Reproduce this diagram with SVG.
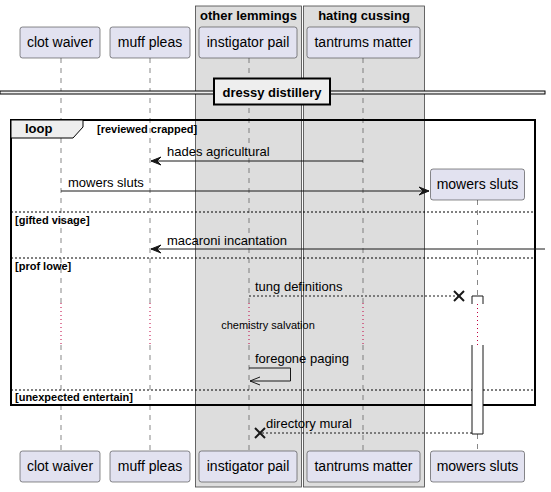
<svg xmlns="http://www.w3.org/2000/svg" width="551" height="492" viewBox="0 0 551 492">
<style>
text{font-family:"Liberation Sans",Arial,sans-serif;fill:#000}
.pbox{fill:#E2E2F0;stroke:#181818;stroke-width:0.5}
.pname{font-size:14px;text-anchor:middle}
.grp{fill:#DDDDDD;stroke:#444;stroke-width:0.8}
.gtitle{font-size:13px;font-weight:bold;text-anchor:middle}
.life{stroke:#555;stroke-width:0.7;stroke-dasharray:5,5;fill:none}
.delay{stroke:#C00040;stroke-width:1;stroke-dasharray:1,3;fill:none}
.msg{stroke:#181818;stroke-width:1;fill:none}
.dmsg{stroke:#181818;stroke-width:1;fill:none;stroke-dasharray:2,2}
.mtxt{font-size:13px}
.sep{stroke:#000;stroke-width:1;stroke-dasharray:2,2}
.cond{font-size:11px;font-weight:bold}
.head{fill:#181818;stroke:#181818;stroke-width:1}
.x{stroke:#181818;stroke-width:2}
</style>
<g id="groups">
<rect class="grp" x="195.5" y="6" width="106" height="481"/>
<text class="gtitle" x="248.5" y="20">other lemmings</text>
<rect class="grp" x="303.5" y="6" width="121" height="481"/>
<text class="gtitle" x="364" y="20">hating cussing</text>
</g>
<g id="lifelines">
<line class="life" x1="61" y1="58" x2="61" y2="303"/>
<line class="delay" x1="61" y1="303" x2="61" y2="345"/>
<line class="life" x1="61" y1="345" x2="61" y2="451"/>
<line class="life" x1="150" y1="58" x2="150" y2="303"/>
<line class="delay" x1="150" y1="303" x2="150" y2="345"/>
<line class="life" x1="150" y1="345" x2="150" y2="451"/>
<line class="life" x1="249" y1="58" x2="249" y2="303"/>
<line class="delay" x1="249" y1="303" x2="249" y2="345"/>
<line class="life" x1="249" y1="345" x2="249" y2="451"/>
<line class="life" x1="363" y1="58" x2="363" y2="303"/>
<line class="delay" x1="363" y1="303" x2="363" y2="345"/>
<line class="life" x1="363" y1="345" x2="363" y2="451"/>
<line class="life" x1="477.5" y1="200" x2="477.5" y2="296"/>
<line class="life" x1="477.5" y1="434" x2="477.5" y2="451"/>
</g>
<g id="divider">
<rect x="0" y="91" width="545" height="3" fill="#EEEEEE" stroke="#000" stroke-width="1"/>
<rect x="214" y="78.5" width="116" height="26" fill="#EEEEEE" stroke="#000" stroke-width="2"/>
<text x="272" y="97" font-size="13" font-weight="bold" text-anchor="middle">dressy distillery</text>
</g>
<g id="loop">
<rect x="11" y="120" width="524" height="285" fill="none" stroke="#000" stroke-width="2"/>
<polygon points="11,120 83,120 83,127 73,138 11,138" fill="#EEEEEE" stroke="#000" stroke-width="1"/>
<text x="25" y="133" font-size="13" font-weight="bold">loop</text>
<text class="cond" x="97" y="133">[reviewed crapped]</text>
<line class="sep" x1="11" y1="212" x2="535" y2="212"/>
<text class="cond" x="15" y="224">[gifted visage]</text>
<line class="sep" x1="11" y1="258" x2="535" y2="258"/>
<text class="cond" x="15" y="270">[prof lowe]</text>
<line class="sep" x1="11" y1="390" x2="535" y2="390"/>
<text class="cond" x="15" y="401">[unexpected entertain]</text>
</g>
<g id="activation">
<path d="M472,304 V296 H483 V304" fill="#fff" stroke="#181818" stroke-width="1"/>
<line class="delay" x1="477.5" y1="304" x2="477.5" y2="345"/>
<path d="M472,345 V434 H483 V345" fill="#fff" stroke="#181818" stroke-width="1"/>
</g>
<g id="connectors">
<line class="msg" x1="363" y1="161" x2="151" y2="161"/>
<polygon class="head" points="161,157 151,161 161,165 157,161"/>
<text class="mtxt" x="167" y="156">hades agricultural</text>
<line class="msg" x1="61" y1="191" x2="429" y2="191"/>
<polygon class="head" points="419,187 429,191 419,195 423,191"/>
<text class="mtxt" x="68" y="187">mowers sluts</text>
<line class="msg" x1="545" y1="249" x2="151" y2="249"/>
<polygon class="head" points="161,245 151,249 161,253 157,249"/>
<text class="mtxt" x="167" y="245">macaroni incantation</text>
<line class="dmsg" x1="249" y1="296" x2="458" y2="296"/>
<line class="x" x1="454" y1="291" x2="464" y2="301"/>
<line class="x" x1="454" y1="301" x2="464" y2="291"/>
<text class="mtxt" x="255" y="291">tung definitions</text>
<text x="268" y="329" font-size="11" text-anchor="middle">chemistry salvation</text>
<polyline class="msg" points="249,368 290.5,368 290.5,381 250,381"/>
<polyline class="msg" points="260,377 250,381 260,385"/>
<text class="mtxt" x="255" y="363">foregone paging</text>
<line class="dmsg" x1="472" y1="433" x2="261" y2="433"/>
<line class="x" x1="255" y1="428" x2="265" y2="438"/>
<line class="x" x1="255" y1="438" x2="265" y2="428"/>
<text class="mtxt" x="266" y="428">directory mural</text>
</g>
<g id="p-clot-top"><rect class="pbox" x="20" y="27" width="80" height="31" rx="2.5"/><text class="pname" x="60" y="47">clot waiver</text></g>
<g id="p-muff-top"><rect class="pbox" x="110" y="27" width="80" height="31" rx="2.5"/><text class="pname" x="150" y="47">muff pleas</text></g>
<g id="p-inst-top"><rect class="pbox" x="199" y="27" width="98" height="31" rx="2.5"/><text class="pname" x="248" y="47">instigator pail</text></g>
<g id="p-tant-top"><rect class="pbox" x="307" y="27" width="113" height="31" rx="2.5"/><text class="pname" x="363.5" y="47">tantrums matter</text></g>
<g id="p-mowers-top"><rect class="pbox" x="430.5" y="169" width="94" height="31" rx="2.5"/><text class="pname" x="477.5" y="189">mowers sluts</text></g>
<g id="p-clot-bottom"><rect class="pbox" x="20" y="451" width="80" height="31" rx="2.5"/><text class="pname" x="60" y="471">clot waiver</text></g>
<g id="p-muff-bottom"><rect class="pbox" x="110" y="451" width="80" height="31" rx="2.5"/><text class="pname" x="150" y="471">muff pleas</text></g>
<g id="p-inst-bottom"><rect class="pbox" x="199" y="451" width="98" height="31" rx="2.5"/><text class="pname" x="248" y="471">instigator pail</text></g>
<g id="p-tant-bottom"><rect class="pbox" x="307" y="451" width="113" height="31" rx="2.5"/><text class="pname" x="363.5" y="471">tantrums matter</text></g>
<g id="p-mowers-bottom"><rect class="pbox" x="430.5" y="451" width="94" height="31" rx="2.5"/><text class="pname" x="477.5" y="471">mowers sluts</text></g>
</svg>
